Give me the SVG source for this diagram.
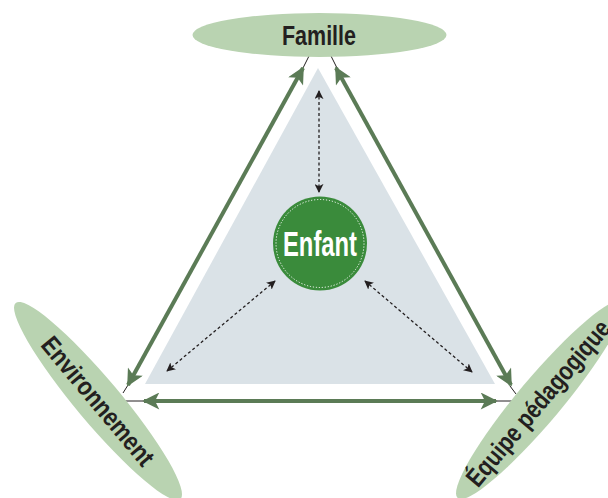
<svg xmlns="http://www.w3.org/2000/svg" width="608" height="498" viewBox="0 0 608 498">
<defs>
<style>
.ell{fill:#b9d3b1}
.lbl{font-family:"Liberation Sans",Arial,sans-serif;font-weight:bold;fill:#231f20}
.green{stroke:#5b7b56;stroke-width:4;fill:none}
.thin{stroke:#231f20;stroke-width:1;fill:none}
.dash{stroke:#231f20;stroke-width:1.3;stroke-dasharray:3,2.5;fill:none}
</style>
<marker id="ga" viewBox="0 0 10 10" refX="9" refY="5" markerWidth="18" markerHeight="17" markerUnits="userSpaceOnUse" orient="auto-start-reverse">
<path d="M0,0 L10,5 L0,10 L2.5,5 Z" fill="#5b7b56"/>
</marker>
<marker id="ba" viewBox="0 0 10 10" refX="9" refY="5" markerWidth="9" markerHeight="9" markerUnits="userSpaceOnUse" orient="auto-start-reverse">
<path d="M0,0 L10,5 L0,10 L2.5,5 Z" fill="#231f20"/>
</marker>
</defs>
<rect width="608" height="498" fill="#ffffff"/>
<polygon points="318,68 145,384 495,384" fill="#dae2e7"/>
<g id="connectors">
<line class="thin" x1="309" y1="56" x2="303" y2="68"/>
<line class="thin" x1="331" y1="56" x2="337" y2="68"/>
<line class="thin" x1="123" y1="393" x2="128" y2="385"/>
<line class="thin" x1="510" y1="386" x2="516" y2="394"/>
<line class="thin" x1="123" y1="401" x2="145" y2="401"/>
<line class="thin" x1="495" y1="401" x2="515" y2="401"/>
<line class="green" x1="303" y1="68" x2="128" y2="385" marker-start="url(#ga)" marker-end="url(#ga)"/>
<line class="green" x1="336" y1="68" x2="511" y2="385" marker-start="url(#ga)" marker-end="url(#ga)"/>
<line class="green" x1="144" y1="401" x2="496" y2="401" marker-start="url(#ga)" marker-end="url(#ga)"/>
<line class="dash" x1="319" y1="91" x2="319" y2="192" marker-start="url(#ba)" marker-end="url(#ba)"/>
<line class="dash" x1="275" y1="281" x2="167" y2="371" marker-start="url(#ba)" marker-end="url(#ba)"/>
<line class="dash" x1="365" y1="281" x2="472" y2="372" marker-start="url(#ba)" marker-end="url(#ba)"/>
</g>
<g id="famille">
<ellipse class="ell" cx="319.5" cy="35" rx="127" ry="22"/>
<text class="lbl" x="319" y="45" font-size="27" text-anchor="middle" textLength="74" lengthAdjust="spacingAndGlyphs">Famille</text>
</g>
<g id="environnement">
<ellipse class="ell" cx="98" cy="401" rx="128" ry="22" transform="rotate(50 98 401)"/>
<text class="lbl" x="98" y="410" font-size="26" text-anchor="middle" textLength="160" lengthAdjust="spacingAndGlyphs" transform="rotate(50 98 401)">Environnement</text>
</g>
<g id="equipe">
<ellipse class="ell" cx="540" cy="400" rx="128" ry="22" transform="rotate(-50 540 400)"/>
<text class="lbl" x="538" y="412" font-size="26" text-anchor="middle" textLength="208" lengthAdjust="spacingAndGlyphs" transform="rotate(-50 538 403)">Équipe pédagogique</text>
</g>
<g id="enfant">
<circle cx="320" cy="243.5" r="47" fill="#3a8b3b"/>
<circle cx="320" cy="243.5" r="44" fill="none" stroke="#ffffff" stroke-width="1" stroke-dasharray="1.2,1.8"/>
<text x="320" y="256" font-family="Liberation Sans, Arial, sans-serif" font-weight="bold" font-size="35" fill="#ffffff" text-anchor="middle" textLength="74" lengthAdjust="spacingAndGlyphs">Enfant</text>
</g>
</svg>
